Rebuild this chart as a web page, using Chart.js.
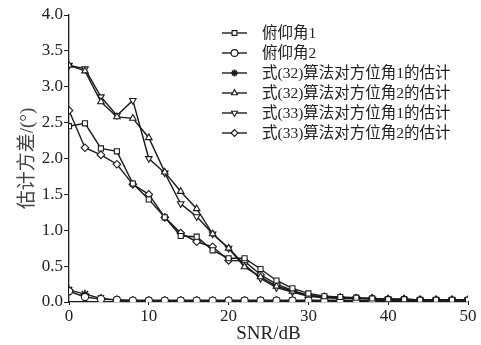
<!DOCTYPE html>
<html><head><meta charset="utf-8">
<script src="https://cdn.jsdelivr.net/npm/chart.js@4/dist/chart.umd.min.js"></script>
<style>html,body{margin:0;padding:0;background:#fff}</style>
</head><body>
<canvas id="c" width="481" height="345"></canvas>
<script>
// SNR sweep (dB) and estimation variance per method
const snr = [0,2,4,6,8,10,12,14,16,18,20,22,24,26,28,30,32,34,36,38,40,42,44,46,48,50];

const elev1  = [2.45,2.49,2.14,2.10,1.65,1.43,1.18,0.92,0.91,0.72,0.61,0.61,0.46,0.30,0.19,0.12,0.08,0.07,0.06,0.05,0.04,0.04,0.03,0.03,0.03,0.03];
const elev2  = [0.15,0.07,0.04,0.03,0.02,0.02,0.02,0.02,0.02,0.02,0.02,0.02,0.02,0.02,0.02,0.02,0.02,0.02,0.02,0.02,0.02,0.02,0.02,0.02,0.02,0.02];
const eq32a1 = [0.17,0.11,0.05,0.03,0.02,0.02,0.02,0.02,0.02,0.02,0.02,0.02,0.02,0.02,0.02,0.02,0.02,0.02,0.02,0.02,0.02,0.02,0.02,0.02,0.02,0.02];
const eq32a2 = [3.30,3.22,2.79,2.58,2.56,2.29,1.81,1.54,1.30,0.95,0.75,0.49,0.35,0.22,0.15,0.09,0.07,0.06,0.05,0.05,0.04,0.04,0.03,0.03,0.03,0.03];
const eq33a1 = [3.30,3.25,2.86,2.60,2.81,2.00,1.80,1.37,1.19,0.95,0.75,0.52,0.33,0.20,0.14,0.08,0.06,0.05,0.05,0.04,0.04,0.03,0.03,0.03,0.03,0.03];
const eq33a2 = [2.67,2.15,2.05,1.92,1.64,1.50,1.18,0.96,0.84,0.77,0.58,0.57,0.38,0.25,0.16,0.09,0.07,0.06,0.05,0.05,0.04,0.04,0.03,0.03,0.03,0.03];

const labels = ["俯仰角1","俯仰角2","式(32)算法对方位角1的估计","式(32)算法对方位角2的估计","式(33)算法对方位角1的估计","式(33)算法对方位角2的估计"];
const series = [elev1, elev2, eq32a1, eq32a2, eq33a1, eq33a2];
const styles = [
    { pointStyle:"rect",     rotation:0,   r:3.6, bw:1.1 },
    { pointStyle:"circle",   rotation:0,   r:3.6, bw:1.1 },
    { pointStyle:"star",     rotation:0,   r:4.4, bw:1.6 },
    { pointStyle:"triangle", rotation:0,   r:3.8, bw:1.1 },
    { pointStyle:"triangle", rotation:180, r:3.8, bw:1.1 },
    { pointStyle:"rectRot",  rotation:0,   r:3.8, bw:1.1 },
];

const INK   = "#1a1a1a";
const SERIF = "'Liberation Serif','Noto Sans CJK SC',serif";

const datasets = series.map((vals, i) => ({
    label: labels[i],
    data: vals.map((v, j) => ({ x: snr[j], y: v })),
    borderColor: INK, borderWidth: 1.4,
    pointStyle: styles[i].pointStyle, rotation: styles[i].rotation,
    pointRadius: styles[i].r, pointBorderWidth: styles[i].bw,
    pointBackgroundColor: "#fff", pointBorderColor: INK,
    fill: false, tension: 0,
}));

// legend drawn inside the plot, top right
const innerLegend = {
    id: "innerLegend",
    afterDraw(chart) {
        const ctx = chart.ctx;
        ctx.save();
        datasets.forEach((ds, i) => {
            const y = 33 + i * 20;
            ctx.strokeStyle = INK; ctx.lineWidth = 1.4;
            ctx.beginPath(); ctx.moveTo(222, y); ctx.lineTo(247, y); ctx.stroke();
            ctx.fillStyle = "#fff";
            ctx.lineWidth = styles[i].bw;
            Chart.helpers.drawPoint(ctx, { pointStyle: ds.pointStyle, rotation: ds.rotation, radius: 3.4, borderWidth: styles[i].bw }, 234.5, y);
            ctx.fillStyle = "#222";
            ctx.font = "15.5px " + SERIF;
            ctx.textBaseline = "middle";
            ctx.fillText(ds.label, 262, y + 1);
        });
        ctx.restore();
    }
};

new Chart(document.getElementById("c"), {
    type: "line",
    data: { datasets },
    options: {
        responsive: false, animation: false,
        layout: { padding: { top: 15, right: 13, left: 0, bottom: 0 } },
        plugins: { legend: { display: false }, tooltip: { enabled: false } },
        scales: {
            x: {
                type: "linear", min: 0, max: 50,
                afterFit: s => { s.height = 43; },
                border: { display: true, color: INK, width: 1.3 },
                grid: { drawOnChartArea: false, drawTicks: true, tickLength: 3, color: INK },
                ticks: { stepSize: 10, color: "#222", padding: 1, font: { family: SERIF, size: 17 } },
                title: { display: true, text: "SNR/dB", color: "#222", padding: 0, font: { family: SERIF, size: 19 } },
            },
            y: {
                min: 0, max: 4,
                afterFit: s => { s.width = 69; },
                border: { display: true, color: INK, width: 1.3 },
                grid: { drawOnChartArea: false, drawTicks: true, tickLength: 5, color: INK },
                ticks: { stepSize: 0.5, color: "#222", padding: 1, callback: v => v.toFixed(1), font: { family: SERIF, size: 17 } },
                title: { display: true, text: "估计方差/(°)", color: "#444", padding: { top: 17 }, font: { family: SERIF, size: 19 } },
            },
        },
    },
    plugins: [innerLegend],
});
</script>
</body></html>
